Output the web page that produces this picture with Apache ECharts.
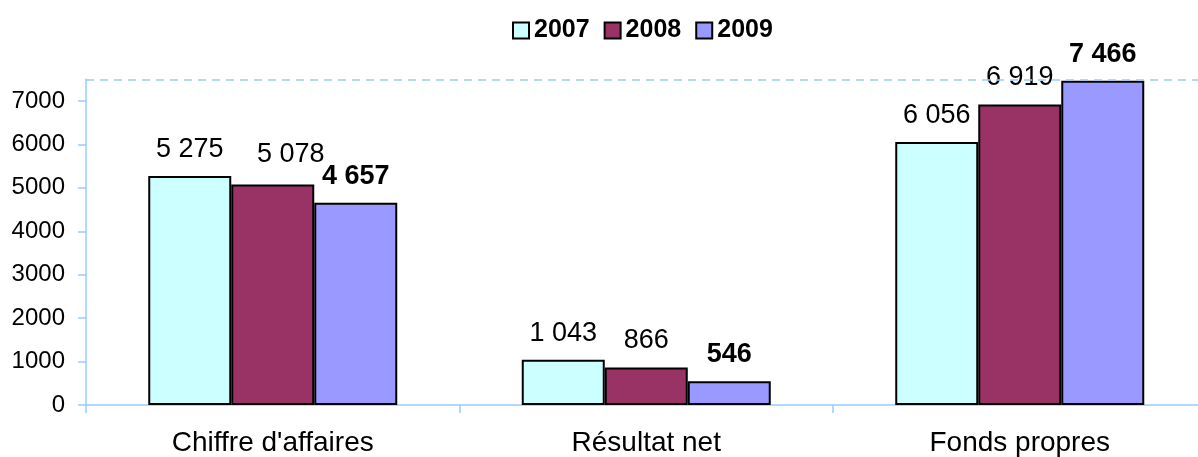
<!DOCTYPE html>
<html>
<head>
<meta charset="utf-8">
<script src="https://cdn.jsdelivr.net/npm/echarts@6/dist/echarts.min.js"></script>
<style>
html,body{margin:0;padding:0;background:#fff;overflow:hidden;}
#chart{width:1210px;height:457px;}
</style>
</head>
<body>
<div id="chart"></div>
<script>
const categories = ["Chiffre d'affaires", "Résultat net", "Fonds propres"];
const seriesNames = ["2007", "2008", "2009"];
const values2007 = [5275, 1043, 6056];
const values2008 = [5078, 866, 6919];
const values2009 = [4657, 546, 7466];
const yTicks = [0, 1000, 2000, 3000, 4000, 5000, 6000, 7000];
const yMax = 7500;

const FONT = "'Liberation Sans', Arial, sans-serif";
const colors = ['#CCFFFF', '#993366', '#9999FF'];

function fmt(v) {
  return String(v).replace(/\B(?=(\d{3})+(?!\d))/g, ' ');
}

const allValues = [values2007, values2008, values2009];

const series = allValues.map((vals, si) => ({
  name: seriesNames[si],
  type: 'bar',
  barWidth: 83,
  barGap: '0%',
  itemStyle: { color: colors[si], borderColor: '#000', borderWidth: 2 },
  label: {
    show: true,
    position: 'top',
    distance: 13,
    fontFamily: FONT,
    fontSize: 27,
    fontWeight: si === 2 ? 'bold' : 'normal',
    color: '#000',
    formatter: p => fmt(p.value)
  },
  data: vals.map((v, i) => {
    if (si === 1 && i === 0) {
      return { value: v, label: { offset: [18, -3] } };
    }
    return v;
  }),
  markLine: si === 0 ? {
    silent: true,
    symbol: 'none',
    label: { show: false },
    lineStyle: { color: '#99CCFF', type: [8, 6], width: 1.5 },
    data: [{ yAxis: yMax }]
  } : undefined
}));

const chart = echarts.init(document.getElementById('chart'), null, { renderer: 'canvas' });
chart.setOption({
  animation: false,
  backgroundColor: '#fff',
  legend: {
    data: seriesNames,
    top: 13,
    left: 507,
    itemWidth: 16,
    itemHeight: 16,
    itemGap: 14,
    icon: 'rect',
    textStyle: { fontFamily: FONT, fontSize: 25, fontWeight: 'bold', color: '#000' },
    itemStyle: { borderColor: '#000', borderWidth: 2 }
  },
  grid: { left: 86, right: 3.5, top: 79.3, bottom: 51.5, containLabel: false },
  xAxis: {
    type: 'category',
    data: categories,
    axisLine: { lineStyle: { color: '#99CCFF', width: 1.5 } },
    axisTick: { show: true, length: 8, lineStyle: { color: '#99CCFF', width: 1.5 } },
    axisLabel: { fontFamily: FONT, fontSize: 28, color: '#000', margin: 24 }
  },
  yAxis: {
    type: 'value',
    min: 0,
    max: yMax,
    axisLine: { show: true, lineStyle: { color: '#99CCFF', width: 1.5 } },
    axisTick: { show: true, length: 8, customValues: yTicks, lineStyle: { color: '#99CCFF', width: 1.5 } },
    axisLabel: { fontFamily: FONT, fontSize: 24, color: '#000', margin: 21, customValues: yTicks, formatter: v => String(v) },
    splitLine: { show: false }
  },
  series: series
});
</script>
</body>
</html>
